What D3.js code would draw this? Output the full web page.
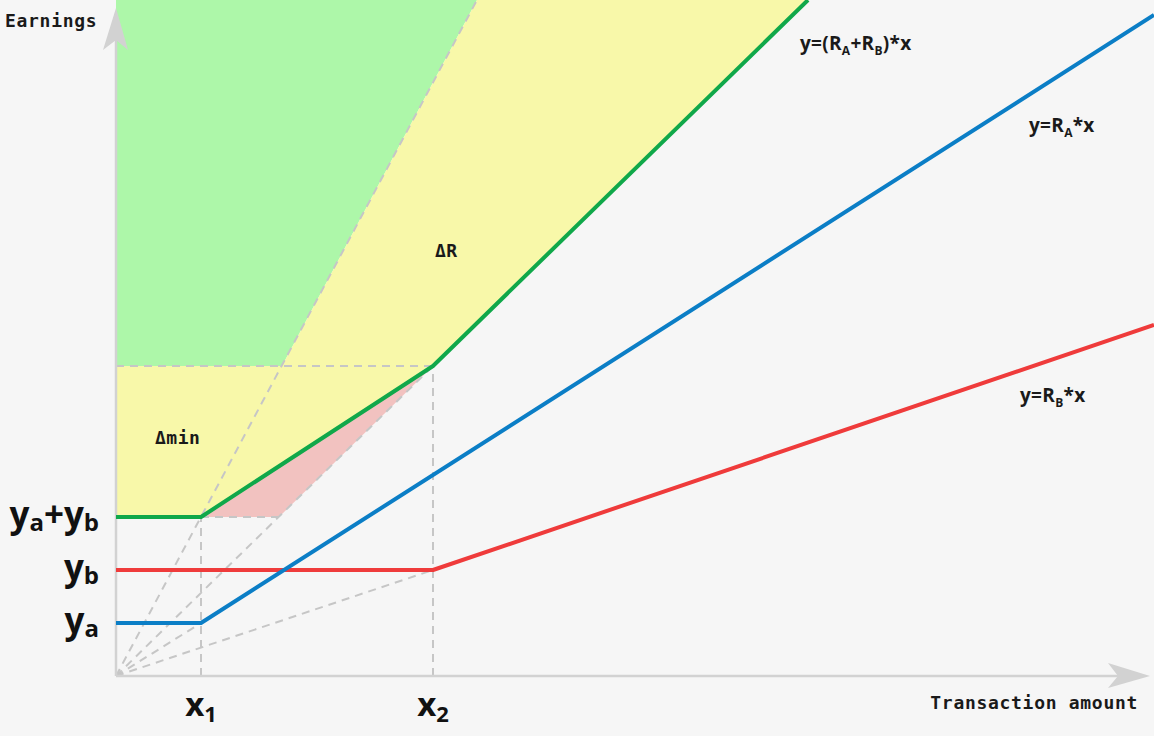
<!DOCTYPE html>
<html>
<head>
<meta charset="utf-8">
<script src="https://cdn.jsdelivr.net/npm/d3@7"></script>
<style>
  html, body { margin: 0; padding: 0; background: #f6f6f6; }
  svg { display: block; }
  .mono { font-family: "DejaVu Sans Mono", monospace; font-weight: bold; fill: #1a1a1a; }
  .eq { font-family: "Open Sans", sans-serif; font-weight: bold; fill: #1a1a1a; }
  .big { font-family: "Open Sans", sans-serif; font-weight: bold; fill: #111; }
</style>
</head>
<body>
<svg id="chart" width="1154" height="736"></svg>
<script>
// ---- data (chart units) ----
const xMarks = [85, 317];            // x1, x2
const xMarkLabels = ["x", "x"];
const xMarkSubs = ["1", "2"];
const yMarks = [53, 106, 159];       // ya, yb, ya+yb
const blueLine  = [[0, 53], [85, 53], [1038, 661]];
const redLine   = [[0, 106], [317, 106], [1038, 351]];
const greenLine = [[0, 159], [85, 159], [317, 310], [692, 676]];
const dashedRays = [
  [[0, 0], [85, 53]],
  [[0, 0], [317, 106]],
  [[0, 0], [317, 310]],
  [[0, 0], [361, 676]]
];
const dashedGuides = [
  [[85, 0], [85, 159]],
  [[317, 0], [317, 310]],
  [[0, 310], [317, 310]],
  [[85, 159], [163, 159]]
];
const greenArea  = [[0, 676], [361, 676], [166, 310], [0, 310]];
const yellowArea = [[0, 310], [166, 310], [361, 676], [692, 676], [317, 310], [85, 159], [0, 159]];
const pinkArea   = [[85, 159], [163, 159], [317, 310]];

const svg = d3.select("#chart");
const W = 1154, H = 736;
const x = d3.scaleLinear().domain([0, 1038]).range([116, 1154]);
const y = d3.scaleLinear().domain([0, 676]).range([676, 0]);

svg.append("rect").attr("width", W).attr("height", H).attr("fill", "#f6f6f6");

const line = d3.line().x(d => x(d[0])).y(d => y(d[1]));
const poly = pts => line(pts) + "Z";

// areas
svg.append("path").attr("d", poly(greenArea)).attr("fill", "#adf7a9");
svg.append("path").attr("d", poly(yellowArea)).attr("fill", "#f8f8a9");
svg.append("path").attr("d", poly(pinkArea)).attr("fill", "#f2c2c0");

// dashed guides
[...dashedRays, ...dashedGuides].forEach(seg => {
  svg.append("path").attr("d", line(seg))
    .attr("fill", "none").attr("stroke", "#c6c6c6")
    .attr("stroke-width", 2).attr("stroke-dasharray", "8,6");
});

// axes
const axisCol = "#d2d2d2";
svg.append("line").attr("x1", x(0)).attr("y1", y(0)).attr("x2", x(0)).attr("y2", 30)
  .attr("stroke", axisCol).attr("stroke-width", 2.5);
svg.append("line").attr("x1", x(0)).attr("y1", y(0)).attr("x2", 1130).attr("y2", y(0))
  .attr("stroke", axisCol).attr("stroke-width", 2.5);
// arrowheads
const ax0 = x(0), ay0 = y(0);
svg.append("path").attr("d", `M${ax0},8 L${ax0+12},50 L${ax0},40 L${ax0-13},50 Z`).attr("fill", axisCol);
svg.append("path").attr("d", `M1150,${ay0} L1108,${ay0-13} L1118,${ay0} L1108,${ay0+12} Z`).attr("fill", axisCol);

// main lines
const drawLine = (pts, col) => svg.append("path").attr("d", line(pts))
  .attr("fill", "none").attr("stroke", col).attr("stroke-width", 4)
  .attr("stroke-linejoin", "round");
drawLine(redLine, "#ef3b3b");
drawLine(blueLine, "#0b7ec6");
drawLine(greenLine, "#10a84a");

// axis titles
svg.append("text").attr("class", "mono").attr("x", 5).attr("y", 27)
  .attr("font-size", 18).attr("letter-spacing", 0.7).text("Earnings");
svg.append("text").attr("class", "mono").attr("x", 1138).attr("y", 709)
  .attr("text-anchor", "end").attr("font-size", 18).attr("letter-spacing", 0.7).text("Transaction amount");

// region labels
svg.append("text").attr("class", "mono").attr("x", 435).attr("y", 257)
  .attr("font-size", 18).attr("letter-spacing", 0.5).text("ΔR");
svg.append("text").attr("class", "mono").attr("x", 155).attr("y", 444)
  .attr("font-size", 18).attr("letter-spacing", 0.5).text("Δmin");

// equation labels with subscripts
function eq(xp, yp, parts) {
  const t = svg.append("text").attr("class", "eq").attr("x", xp).attr("y", yp)
    .attr("font-size", 19).attr("letter-spacing", 0.3);
  parts.forEach(p => {
    if (p.sub) {
      t.append("tspan").attr("font-size", 12).attr("dy", 5).text(p.sub);
    } else {
      t.append("tspan").attr("dy", p.after ? -5 : 0).text(p.t);
    }
  });
}
eq(800, 50, [{t:"y=(R"},{sub:"A"},{t:"+R", after:true},{sub:"B"},{t:")*x", after:true}]);
eq(1029, 132, [{t:"y=R"},{sub:"A"},{t:"*x", after:true}]);
eq(1020, 402, [{t:"y=R"},{sub:"B"},{t:"*x", after:true}]);

// big y labels
const yLab = [
  [{t:"y"},{sub:"a"}],
  [{t:"y"},{sub:"b"}],
  [{t:"y"},{sub:"a"},{t:"+y", after:true},{sub:"b"}]
];
yMarks.forEach((v, i) => {
  const t = svg.append("text").attr("class", "big").attr("x", 99).attr("y", y(v) + 10)
    .attr("text-anchor", "end").attr("font-size", 35);
  yLab[i].forEach(p => {
    if (p.sub) {
      t.append("tspan").attr("font-size", 24).attr("dy", 4).text(p.sub);
    } else {
      t.append("tspan").attr("dy", p.after ? -4 : 0).text(p.t);
    }
  });
});

// big x labels
xMarks.forEach((v, i) => {
  const t = svg.append("text").attr("class", "big").attr("x", x(v)).attr("y", 716)
    .attr("text-anchor", "middle").attr("font-size", 33);
  t.append("tspan").text(xMarkLabels[i]);
  t.append("tspan").attr("font-size", 22).attr("dy", 6).text(xMarkSubs[i]);
});
</script>
</body>
</html>
